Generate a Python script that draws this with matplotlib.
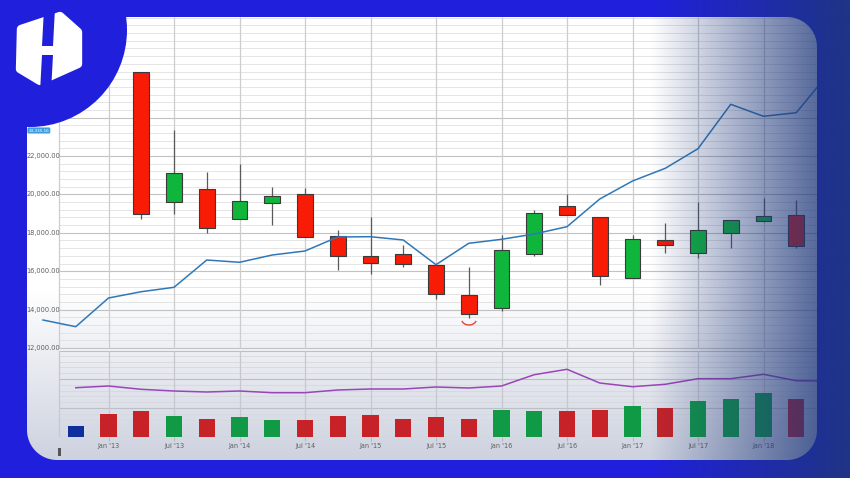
import numpy as np
import matplotlib
matplotlib.use("Agg")
import matplotlib.pyplot as plt
from matplotlib.patches import Rectangle, Polygon, Circle, PathPatch
from matplotlib.path import Path

# ---------------- data ----------------
quarters = ["Jul '12", "Oct '12", "Jan '13", "Apr '13", "Jul '13", "Oct '13",
            "Jan '14", "Apr '14", "Jul '14", "Oct '14", "Jan '15", "Apr '15",
            "Jul '15", "Oct '15", "Jan '16", "Apr '16", "Jul '16", "Oct '16",
            "Jan '17", "Apr '17", "Jul '17", "Oct '17", "Jan '18", "Apr '18",
            "Jul '18"]
tick_labels = ["Jan '13", "Jul '13", "Jan '14", "Jul '14", "Jan '15", "Jul '15",
               "Jan '16", "Jul '16", "Jan '17", "Jul '17", "Jan '18"]

# moving-average line (blue), one value per quarter
price_line = [13458, 13109, 14604, 14932, 15161, 16583, 16464, 16844, 17052,
              17781, 17797, 17625, 16339, 17453, 17661, 17938, 18318, 19760,
              20698, 21359, 22380, 24693, 24068, 24255, 26323]

# candlesticks from Apr '13 to Apr '18
candle_start = "Apr '13"
c_open = [26375, 19620, 20297, 18703, 19568, 20036, 17849, 16807, 16896, 16307,
          14776, 14068, 16880, 19411, 18839, 15661, 17609, 16932, 17974, 18630,
          18943]
c_high = [26375, 23354, 21167, 21599, 20385, 20333, 18146, 18839, 17365, 16307,
          16234, 17885, 19188, 20021, 18839, 17885, 18495, 19604, 18651, 19828,
          19724]
c_low = [18719, 18979, 17974, 18703, 18422, 17766, 16063, 15854, 16234, 14568,
         13547, 13943, 16807, 18943, 15266, 15661, 16964, 16672, 17224, 18563,
         17193]
c_close = [18979, 21130, 18234, 19656, 19932, 17766, 16776, 16427, 16375, 14813,
           13771, 17104, 19016, 18943, 15734, 17661, 17365, 18146, 18651, 18891,
           17313]

# volume bars from Oct '12 to Apr '18
volume_start = "Oct '12"
volume = [10.7, 23, 26, 20.7, 18.3, 20.3, 16.7, 17.3, 21.3, 22, 17.7, 19.7, 18,
          27, 26.5, 26.2, 26.7, 30.7, 29, 36.3, 37.7, 44, 38]
volume_dir = ["n", "d", "d", "u", "d", "u", "u", "d", "d", "d", "d", "d", "d",
              "u", "u", "d", "d", "u", "d", "u", "u", "u", "d"]
# volume moving average (purple), Oct '12 to Jul '18
volume_ma = [49.3, 51, 47.7, 46, 45, 46, 44.3, 44.3, 47, 48, 48, 50, 49, 51,
             62.3, 67.7, 54, 50.3, 52.7, 58.3, 58.3, 62.7, 56.3, 56]

price_major = [12000, 14000, 16000, 18000, 20000, 22000, 24000]

# ---------------- layout helpers (pixel geometry) ----------------
W, H = 850, 478
FRAME = "#2020dc"
X0_PX, STEP_PX = 43.0, 32.75     # pixel of first quarter, pixels per quarter
PY_BASE, PY_SCALE = 348.0, 0.0192  # pixel of 12,000 and px per unit


def xq(px):
    return (px - X0_PX) / STEP_PX


def yv(py):
    return 12000 + (PY_BASE - py) / PY_SCALE


fig = plt.figure(figsize=(W / 100, H / 100), dpi=100)
fig.patch.set_facecolor(FRAME)

# ---- background of the chart card (white -> light grey at the bottom)
bg = fig.add_axes([0, 0, 1, 1], zorder=0)
bg.set_xlim(0, W)
bg.set_ylim(H, 0)
bg.axis("off")
rows = np.arange(17, 461)
t = np.clip((rows - 290) / (460 - 290), 0, 1)[:, None]
top = np.array([1.0, 1.0, 1.0])
bot = np.array([205, 210, 223]) / 255
grad = top * (1 - t) + bot * t
grad_img = np.repeat(grad[:, None, :], 2, axis=1)
bg.imshow(grad_img, extent=(27, 817, 460, 17), aspect="auto",
          interpolation="bilinear")

xs = np.arange(len(quarters))
xmin, xmax = xq(27), xq(817)
xleft = xq(59)
tick_pos = [quarters.index(lbl) for lbl in tick_labels]

# ---- price panel
ax = fig.add_axes([27 / W, 1 - 349 / H, 790 / W, 332 / H], zorder=1)
ax.set_facecolor("none")
ax.set_xlim(xmin, xmax)
ax.set_ylim(yv(349), yv(17))
for s in ax.spines.values():
    s.set_visible(False)
ax.set_xticks([])
ax.set_yticks([])

minor_vals = np.arange(12000, 29600, 400)
ax.hlines([v for v in minor_vals if v not in price_major], xleft, xmax,
          color="#e0e0e0", lw=0.6, zorder=0)
ax.hlines(price_major, xleft, xmax, color="#c2c2c2", lw=0.8, zorder=0)
ax.vlines(tick_pos + [xleft], yv(349), yv(17), color="#cdcdcd", lw=0.9, zorder=0)
for v in price_major:
    ax.text(xq(60.5), v, f"{v:,.2f}", ha="right", va="center", fontsize=4.8,
            color="#5e5e5e", zorder=1)

ax.plot(xs, price_line, color="#2f78b8", lw=1.1, zorder=4, clip_on=False)

c0 = quarters.index(candle_start)
w = 0.48
for i in range(len(c_open)):
    q = c0 + i
    o, hi, lo, c = c_open[i], c_high[i], c_low[i], c_close[i]
    col = "#10b53c" if c > o else "#f81b06"
    ax.vlines(q, lo, hi, color="#5a5a5a", lw=0.9, zorder=2)
    ax.add_patch(Rectangle((q - w / 2, min(o, c)), w, max(abs(c - o), 40),
                           facecolor=col, edgecolor="#3a3a3a", lw=0.8, zorder=3))

ax.text(xq(28.5), yv(130.5), "23,335.16", ha="left", va="center", fontsize=3.0,
        color="white", zorder=6,
        bbox=dict(boxstyle="round,pad=0.25", fc="#3d9fe0", ec="none"))

# ---- volume panel
ax2 = fig.add_axes([27 / W, 1 - 437 / H, 790 / W, 86 / H], zorder=1)
ax2.set_facecolor("none")
ax2.set_xlim(xmin, xmax)
ax2.set_ylim(0, 86)
for s in ax2.spines.values():
    s.set_visible(False)
vminor = np.arange(0, 87, 29 / 5)
ax2.hlines(vminor, xleft, xmax, color="#d6d8de", lw=0.6, zorder=0)
ax2.hlines([0, 29, 58, 86], xleft, xmax, color="#bcbfc6", lw=0.8, zorder=0)
ax2.vlines(tick_pos + [xleft], 0, 86, color="#c6c8ce", lw=0.9, zorder=0)

v0 = quarters.index(volume_start)
vcols = {"u": "#109a45", "d": "#c62227", "n": "#0f2f9e"}
ax2.bar(xs[v0:v0 + len(volume)], volume, width=0.5,
        color=[vcols[d] for d in volume_dir], zorder=2)
ax2.plot(xs[v0:v0 + len(volume_ma)], volume_ma, color="#9a45b8", lw=1.1,
         zorder=3, clip_on=False)
ax2.set_yticks([])
ax2.set_xticks(tick_pos)
ax2.set_xticklabels(tick_labels, fontsize=4.7, color="#5e5e5e")
ax2.tick_params(axis="x", length=3, color="#b8b8b8", pad=1.5, width=0.8)

# ---- overlay: frame, right-side shading, logo
ov = fig.add_axes([0, 0, 1, 1], zorder=5)
ov.set_facecolor("none")
ov.set_xlim(0, W)
ov.set_ylim(H, 0)
ov.axis("off")


def rrect(x0, y0, x1, y1, r, n=24):
    pts = []
    for cx, cy, a0 in [(x1 - r, y0 + r, -90), (x1 - r, y1 - r, 0),
                       (x0 + r, y1 - r, 90), (x0 + r, y0 + r, 180)]:
        for a in np.radians(np.linspace(a0, a0 + 90, n)):
            pts.append((cx + r * np.cos(a), cy + r * np.sin(a)))
    return pts


outer = [(0, 0), (0, H), (W, H), (W, 0)]
inner = rrect(27, 17, 817, 460, 30)
verts = outer + [outer[0]] + inner + [inner[0]]
codes = ([Path.MOVETO] + [Path.LINETO] * 3 + [Path.CLOSEPOLY] +
         [Path.MOVETO] + [Path.LINETO] * (len(inner) - 1) + [Path.CLOSEPOLY])
ov.add_patch(PathPatch(Path(verts, codes), facecolor=FRAME, edgecolor="none",
                       zorder=1))

# scrollbar glyph bottom-left
ov.add_patch(Rectangle((58.5, 448), 3, 8, facecolor="#555555", edgecolor="none",
                       zorder=1))

# small red smile mark under a candle
tt = np.radians(np.linspace(25, 155, 30))
ov.plot(469 + 7.5 * np.cos(tt), 319 + 6 * np.sin(tt), color="#e8432c", lw=1.0,
        zorder=1)

# navy shading toward the right
px = np.arange(W)
alpha = np.clip((px - 650) / 167 * 0.75, 0, 0.93)
shade = np.zeros((2, W, 4))
shade[..., 0] = 30 / 255
shade[..., 1] = 55 / 255
shade[..., 2] = 122 / 255
shade[..., 3] = alpha[None, :]
ov.imshow(shade, extent=(0, W, H, 0), aspect="auto", interpolation="bilinear",
          zorder=2)

# logo
ov.add_patch(Circle((30, 30), 97, facecolor=FRAME, edgecolor="none", zorder=3))
hexv = [(21, 29), (60, 16), (78, 32), (78, 64), (40, 81), (20, 69)]
ov.add_patch(Polygon(hexv, closed=True, facecolor="white", edgecolor="white",
                     lw=6, joinstyle="round", zorder=4))
ov.add_patch(Polygon([(44, 8), (55, 8), (53, 46), (42, 46)], closed=True,
                     facecolor=FRAME, edgecolor="none", zorder=5))
ov.add_patch(Polygon([(42, 55), (53, 55), (51, 92), (40, 92)], closed=True,
                     facecolor=FRAME, edgecolor="none", zorder=5))

fig.savefig("out.png", dpi=100, facecolor=fig.get_facecolor())
